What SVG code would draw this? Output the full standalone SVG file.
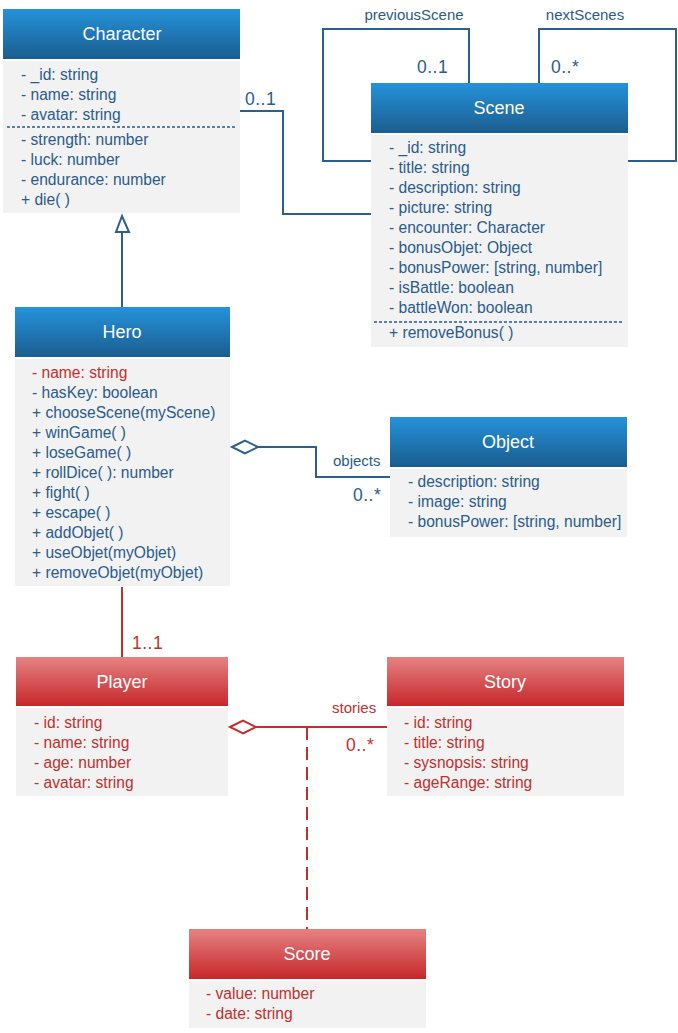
<svg xmlns="http://www.w3.org/2000/svg" width="678" height="1033" viewBox="0 0 678 1033">
<defs>
<linearGradient id="gb" x1="0" y1="0" x2="0" y2="1">
<stop offset="0" stop-color="#2592da"/><stop offset="1" stop-color="#1b5d8f"/>
</linearGradient>
<linearGradient id="gr" x1="0" y1="0" x2="0" y2="1">
<stop offset="0" stop-color="#e68282"/><stop offset="1" stop-color="#c6272a"/>
</linearGradient>
<style>
text{font-family:"Liberation Sans",Arial,sans-serif;}
.hb{fill:url(#gb);}
.hr{fill:url(#gr);}
.body{fill:#f2f2f2;}
.title{fill:#ffffff;font-size:18px;text-anchor:middle;}
.tb{fill:#2b5b8a;font-size:15.6px;}
.tr{fill:#c0302f;font-size:15.6px;}
.lb{fill:#2b5b8a;font-size:15px;}
.lr{fill:#c0302f;font-size:15px;}
.mb{fill:#2b5b8a;font-size:17.5px;letter-spacing:0.5px;}
.mr{fill:#c0302f;font-size:17.5px;letter-spacing:0.5px;}
.sep{stroke:#2b5b8a;stroke-width:1.3;stroke-dasharray:3 2;fill:none;}
.cb{stroke:#2b5f8c;stroke-width:2;fill:none;}
.cr{stroke:#c0302f;stroke-width:2;fill:none;}
</style>
</defs>

<g id="connectors">
<polyline class="cb" points="240,111 283,111 283,214 371,214"/>
<polyline class="cb" points="469,83 469,29 323,29 323,161 371,161"/>
<polyline class="cb" points="539,83 539,29 676,29 676,161 628,161"/>
<line class="cb" x1="122" y1="307" x2="122" y2="232"/>
<polygon points="122,216 116,232 129,232" fill="#ffffff" stroke="#2b5f8c" stroke-width="2"/>
<polyline class="cb" points="258,447 316,447 316,477 390,477"/>
<polygon points="232,447 245,440.5 258,447 245,453.5" fill="#ffffff" stroke="#2b5f8c" stroke-width="2"/>
<line class="cr" x1="122" y1="587" x2="122" y2="657"/>
<line class="cr" x1="256" y1="727" x2="387" y2="727"/>
<polygon points="230,727 243,720.5 256,727 243,733.5" fill="#ffffff" stroke="#c0302f" stroke-width="2"/>
<line class="cr" x1="307" y1="727" x2="307" y2="929" stroke-dasharray="13 7"/>
<text class="mb" x="245" y="105">0..1</text>
<text class="lb" x="414" y="20" text-anchor="middle">previousScene</text>
<text class="lb" x="585" y="20" text-anchor="middle">nextScenes</text>
<text class="mb" x="417" y="73">0..1</text>
<text class="mb" x="551" y="73">0..*</text>
<text class="lb" x="333" y="466">objects</text>
<text class="mb" x="353" y="501">0..*</text>
<text class="mr" x="132" y="649">1..1</text>
<text class="lr" x="332" y="713">stories</text>
<text class="mr" x="346" y="751">0..*</text>
</g>

<g id="character">
<rect class="hb" x="3" y="9" width="237" height="50"/>
<text class="title" x="122" y="40">Character</text>
<rect class="body" x="3" y="61" width="237" height="152"/>
<text class="tb" x="21" y="80">- _id: string</text>
<text class="tb" x="21" y="100">- name: string</text>
<text class="tb" x="21" y="120">- avatar: string</text>
<line class="sep" x1="7" y1="127" x2="236" y2="127"/>
<text class="tb" x="21" y="145">- strength: number</text>
<text class="tb" x="21" y="165">- luck: number</text>
<text class="tb" x="21" y="185">- endurance: number</text>
<text class="tb" x="21" y="205">+ die( )</text>
</g>

<g id="scene">
<rect class="hb" x="371" y="83" width="257" height="50"/>
<text class="title" x="499" y="114">Scene</text>
<rect class="body" x="371" y="135" width="257" height="212"/>
<text class="tb" x="389" y="153">- _id: string</text>
<text class="tb" x="389" y="173">- title: string</text>
<text class="tb" x="389" y="193">- description: string</text>
<text class="tb" x="389" y="213">- picture: string</text>
<text class="tb" x="389" y="233">- encounter: Character</text>
<text class="tb" x="389" y="253">- bonusObjet: Object</text>
<text class="tb" x="389" y="273">- bonusPower: [string, number]</text>
<text class="tb" x="389" y="293">- isBattle: boolean</text>
<text class="tb" x="389" y="313">- battleWon: boolean</text>
<line class="sep" x1="374" y1="322" x2="623" y2="322"/>
<text class="tb" x="389" y="338">+ removeBonus( )</text>
</g>

<g id="hero">
<rect class="hb" x="15" y="307" width="215" height="50"/>
<text class="title" x="122" y="338">Hero</text>
<rect class="body" x="15" y="359" width="215" height="227"/>
<text class="tr" x="32" y="378">- name: string</text>
<text class="tb" x="32" y="398">- hasKey: boolean</text>
<text class="tb" x="32" y="418">+ chooseScene(myScene)</text>
<text class="tb" x="32" y="438">+ winGame( )</text>
<text class="tb" x="32" y="458">+ loseGame( )</text>
<text class="tb" x="32" y="478">+ rollDice( ): number</text>
<text class="tb" x="32" y="498">+ fight( )</text>
<text class="tb" x="32" y="518">+ escape( )</text>
<text class="tb" x="32" y="538">+ addObjet( )</text>
<text class="tb" x="32" y="558">+ useObjet(myObjet)</text>
<text class="tb" x="32" y="578">+ removeObjet(myObjet)</text>
</g>

<g id="object">
<rect class="hb" x="390" y="417" width="237" height="50"/>
<text class="title" x="508" y="448">Object</text>
<rect class="body" x="390" y="469" width="237" height="68"/>
<text class="tb" x="408" y="487">- description: string</text>
<text class="tb" x="408" y="507">- image: string</text>
<text class="tb" x="408" y="527">- bonusPower: [string, number]</text>
</g>

<g id="player">
<rect class="hr" x="16" y="657" width="212" height="49"/>
<text class="title" x="122" y="688">Player</text>
<rect class="body" x="16" y="708" width="212" height="88"/>
<text class="tr" x="34" y="728">- id: string</text>
<text class="tr" x="34" y="748">- name: string</text>
<text class="tr" x="34" y="768">- age: number</text>
<text class="tr" x="34" y="788">- avatar: string</text>
</g>

<g id="story">
<rect class="hr" x="387" y="657" width="237" height="49"/>
<text class="title" x="505" y="688">Story</text>
<rect class="body" x="387" y="708" width="237" height="88"/>
<text class="tr" x="404" y="728">- id: string</text>
<text class="tr" x="404" y="748">- title: string</text>
<text class="tr" x="404" y="768">- sysnopsis: string</text>
<text class="tr" x="404" y="788">- ageRange: string</text>
</g>

<g id="score">
<rect class="hr" x="189" y="929" width="237" height="50"/>
<text class="title" x="307" y="960">Score</text>
<rect class="body" x="189" y="981" width="237" height="47"/>
<text class="tr" x="206" y="999">- value: number</text>
<text class="tr" x="206" y="1019">- date: string</text>
</g>
</svg>
